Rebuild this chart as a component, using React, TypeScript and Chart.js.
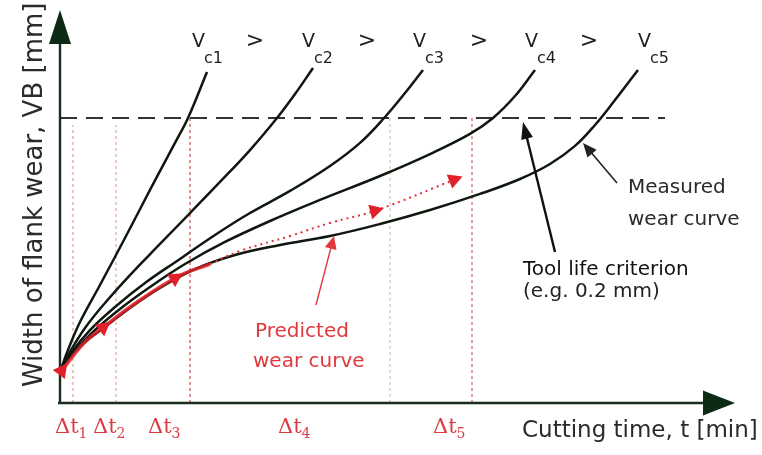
import React, { useEffect, useRef } from "react";
import { Chart, registerables } from "chart.js";
Chart.register(...registerables);

// Cutting time t [min] and flank wear VB [mm]
const timeVc1 = [0, 0.8, 2.0, 4.0, 6.5, 9.0, 11.5, 12.8, 14.7];
const wearVc1 = [0.0218, 0.0372, 0.0568, 0.0828, 0.1158, 0.1495, 0.1825, 0.2, 0.2323];

const timeVc2 = [0, 1.0, 2.5, 4.5, 7.0, 10.0, 13.0, 16.0, 19.0, 21.7, 23.5, 25.3];
const wearVc2 = [0.0218, 0.0358, 0.0526, 0.0702, 0.0898, 0.1116, 0.1333, 0.1551, 0.1775, 0.2, 0.2168, 0.2351];

const timeVc3 = [0, 1.2, 3.0, 5.5, 8.5, 12.0, 15.5, 19.0, 23.0, 27.0, 30.0, 32.5, 34.5, 36.3];
const wearVc3 = [0.0218, 0.0358, 0.0512, 0.0674, 0.0842, 0.1011, 0.1179, 0.1333, 0.1488, 0.1663, 0.1825, 0.2007, 0.2175, 0.2337];

const timeVc4 = [0, 1.5, 3.5, 6.0, 9.0, 12.5, 16.5, 21.0, 26.0, 32.0, 37.0, 41.0, 43.3, 45.5, 47.5];
const wearVc4 = [0.0218, 0.0365, 0.0512, 0.066, 0.0814, 0.0975, 0.113, 0.1277, 0.1425, 0.1593, 0.1747, 0.1888, 0.2, 0.2154, 0.2337];

const timeVc5 = [0, 1.0, 2.5, 4.5, 7.0, 10.0, 13.5, 17.5, 22.0, 27.0, 32.0, 37.0, 42.0, 46.0, 49.0, 51.5, 53.5, 55.5, 57.8];
const wearVc5 = [0.0218, 0.0323, 0.0428, 0.0533, 0.0667, 0.0807, 0.094, 0.1039, 0.1109, 0.1172, 0.1256, 0.1354, 0.1467, 0.1572, 0.1677, 0.1804, 0.1951, 0.2126, 0.2337];

const predictedSolidTime = [0, 0.3, 2.5, 4.5, 7.0, 11.7, 15.0];
const predictedSolidWear = [0.0211, 0.0239, 0.0428, 0.054, 0.0674, 0.0884, 0.0975];
const predictedDottedTime = [15.0, 18.0, 23.0, 27.0, 31.7, 39.6];
const predictedDottedWear = [0.0975, 0.1067, 0.1172, 0.1263, 0.1354, 0.1572];
const solidMarkerIndex = [1, 3, 5];
const dottedMarkerIndex = [4, 5];

const toolLifeCriterion = 0.2;
const criterionEndTime = 60.5;

const intervalBounds = [1.3, 5.6, 13.0, 33.0, 41.2];
const intervalTops = [0.195, 0.195, 0.2, 0.2, 0.2];
const intervalNames = ["1", "2", "3", "4", "5"];
const speedNames = ["c1", "c2", "c3", "c4", "c5"];

const yTitle = "Width of flank wear, VB [mm]";
const xTitle = "Cutting time, t [min]";

// placement of annotations (data units)
const speedLabelX = [13.2, 24.2, 35.3, 46.5, 57.8];
const speedLabelY = 0.2498;
const gtX = [19.5, 30.7, 41.9, 52.9];
const gtY = 0.254;
const intervalLabelX = [-0.5, 3.3, 8.8, 21.8, 37.3];
const intervalLabelY = -0.0211;

const SANS = '"DejaVu Sans", Verdana, sans-serif';
const SERIF = '"DejaVu Serif", "Liberation Serif", serif';

const texts = [
  { t: "Measured", x: 56.8, y: 0.1474, color: "#2b2b2b", font: `20px ${SANS}` },
  { t: "wear curve", x: 56.8, y: 0.1249, color: "#2b2b2b", font: `20px ${SANS}` },
  { t: "Tool life criterion", x: 46.3, y: 0.0898, color: "#111", font: `20px ${SANS}` },
  { t: "(e.g. 0.2 mm)", x: 46.3, y: 0.0744, color: "#222", font: `20px ${SANS}` },
  { t: "Predicted", x: 19.5, y: 0.0463, color: "#e0383c", font: `20px ${SANS}` },
  { t: "wear curve", x: 19.3, y: 0.0253, color: "#e0383c", font: `20px ${SANS}` },
  { t: xTitle, x: 46.2, y: -0.0239, color: "#2b2b2b", font: `23px ${SANS}` },
];

const arrows = [
  { from: [49.5, 0.106], to: [46.3, 0.1972], color: "#111", width: 2.4, len: 17, half: 6 },
  { from: [55.7, 0.1544], to: [52.3, 0.1825], color: "#222", width: 1.6, len: 14, half: 6 },
  { from: [25.6, 0.0688], to: [27.4, 0.1172], color: "#e0383c", width: 1.4, len: 13, half: 6 },
];

const axisX = { from: [-0.2, 0], tip: [67.5, 0] };
const axisY = { from: [0, 0], tip: [0, 0.2758] };

const pts = (xs: number[], ys: number[]) => xs.map((x, i) => ({ x, y: ys[i] }));

function head(ctx: CanvasRenderingContext2D, fx: number, fy: number, tx: number, ty: number, len: number, half: number, color: string, centered = false) {
  const dx = tx - fx, dy = ty - fy;
  const d = Math.hypot(dx, dy) || 1;
  const ux = dx / d, uy = dy / d;
  let tipX = tx, tipY = ty;
  if (centered) { tipX = tx + ux * len / 2; tipY = ty + uy * len / 2; }
  const bx = tipX - ux * len, by = tipY - uy * len;
  ctx.beginPath();
  ctx.moveTo(tipX, tipY);
  ctx.lineTo(bx - uy * half, by + ux * half);
  ctx.lineTo(bx + uy * half, by - ux * half);
  ctx.closePath();
  ctx.fillStyle = color;
  ctx.fill();
}

const annotate = {
  id: "annotate",
  afterDatasetsDraw(chart: any) {
    const ctx: CanvasRenderingContext2D = chart.ctx;
    const sx = chart.scales.x, sy = chart.scales.y;
    const X = (v: number) => sx.getPixelForValue(v);
    const Y = (v: number) => sy.getPixelForValue(v);
    ctx.save();

    // axis arrowheads
    head(ctx, X(axisY.from[0]), Y(axisY.from[1]), X(axisY.tip[0]), Y(axisY.tip[1]), 34, 11, "#0d2a14");
    head(ctx, X(axisX.from[0]), Y(axisX.from[1]), X(axisX.tip[0]), Y(axisX.tip[1]), 32, 12.5, "#0d2a14");

    // pointer arrows
    for (const a of arrows) {
      const fx = X(a.from[0]), fy = Y(a.from[1]), tx = X(a.to[0]), ty = Y(a.to[1]);
      const d = Math.hypot(tx - fx, ty - fy);
      const ex = tx - (tx - fx) / d * (a.len - 2), ey = ty - (ty - fy) / d * (a.len - 2);
      ctx.beginPath();
      ctx.moveTo(fx, fy);
      ctx.lineTo(ex, ey);
      ctx.strokeStyle = a.color;
      ctx.lineWidth = a.width;
      ctx.stroke();
      head(ctx, fx, fy, tx, ty, a.len, a.half, a.color);
    }

    // predicted-curve markers
    const mark = (ts: number[], ws: number[], idx: number[]) => {
      for (const i of idx) {
        const j = i > 0 ? i - 1 : i + 1;
        let fx = X(ts[j]), fy = Y(ws[j]), tx = X(ts[i]), ty = Y(ws[i]);
        if (j > i) { [fx, tx] = [tx, fx]; [fy, ty] = [ty, fy]; }
        head(ctx, fx, fy, tx, ty, 14, 7.5, "#e0202a", true);
      }
    };
    mark(predictedSolidTime, predictedSolidWear, solidMarkerIndex);
    mark(predictedDottedTime, predictedDottedWear, dottedMarkerIndex);

    // plain texts
    ctx.textAlign = "left";
    ctx.textBaseline = "alphabetic";
    for (const t of texts) {
      ctx.font = t.font;
      ctx.fillStyle = t.color;
      ctx.fillText(t.t, X(t.x), Y(t.y));
    }

    // y title
    ctx.save();
    ctx.translate(X(-1.8), Y(0.0112));
    ctx.rotate(-Math.PI / 2);
    ctx.font = `26px ${SANS}`;
    ctx.fillStyle = "#2b2b2b";
    ctx.fillText(yTitle, 0, 0);
    ctx.restore();

    // speed labels Vc1 > Vc2 ...
    speedNames.forEach((s, i) => {
      const x0 = X(speedLabelX[i]), y0 = Y(speedLabelY);
      ctx.font = `19px ${SANS}`;
      ctx.fillStyle = "#1e1e1e";
      ctx.fillText("V", x0, y0);
      const w = ctx.measureText("V").width;
      ctx.font = `16px ${SANS}`;
      ctx.fillText(s, x0 + w - 1, y0 + 16);
    });
    ctx.textAlign = "center";
    ctx.textBaseline = "middle";
    ctx.font = `22px ${SANS}`;
    gtX.forEach((g) => ctx.fillText(">", X(g), Y(gtY)));

    // interval labels
    ctx.textAlign = "left";
    ctx.textBaseline = "alphabetic";
    intervalNames.forEach((n, i) => {
      const x0 = X(intervalLabelX[i]), y0 = Y(intervalLabelY);
      ctx.fillStyle = "#dc3a40";
      ctx.font = `21px ${SERIF}`;
      ctx.fillText("\u0394t", x0, y0);
      const w = ctx.measureText("\u0394t").width;
      ctx.font = `14px ${SERIF}`;
      ctx.fillText(n, x0 + w, y0 + 5);
    });

    ctx.restore();
  },
};

export default function App() {
  const ref = useRef<HTMLCanvasElement | null>(null);
  useEffect(() => {
    document.body.style.margin = "0";
    const curve = (xs: number[], ys: number[]) => ({
      data: pts(xs, ys),
      borderColor: "#0e180e",
      borderWidth: 2.5,
      pointRadius: 0,
      tension: 0.4,
      order: 2,
    });
    const datasets: any[] = [
      {
        data: pts(predictedSolidTime, predictedSolidWear),
        borderColor: "rgba(226,30,40,0.85)",
        borderWidth: 3.5,
        pointRadius: 0,
        tension: 0.4,
        order: 0,
      },
      {
        data: pts(predictedDottedTime, predictedDottedWear),
        borderColor: "#e0303a",
        borderWidth: 2,
        borderDash: [2, 4],
        pointRadius: 0,
        tension: 0.4,
        order: 0,
      },
      curve(timeVc1, wearVc1),
      curve(timeVc2, wearVc2),
      curve(timeVc3, wearVc3),
      curve(timeVc4, wearVc4),
      curve(timeVc5, wearVc5),
      {
        data: [{ x: 0, y: toolLifeCriterion }, { x: criterionEndTime, y: toolLifeCriterion }],
        borderColor: "#333",
        borderWidth: 2,
        borderDash: [17, 9],
        pointRadius: 0,
        tension: 0,
        order: 3,
      },
      ...intervalBounds.map((b, i) => ({
        data: [{ x: b, y: 0 }, { x: b, y: intervalTops[i] }],
        borderColor: ["#eb9a9a", "#e4a4a4", "#cf4a4a", "#d8bcbc", "#d95c5c"][i],
        borderWidth: 1.2,
        borderDash: [3, 3],
        pointRadius: 0,
        tension: 0,
        order: 4,
      })),
      {
        data: [{ x: axisX.from[0], y: axisX.from[1] }, { x: axisX.tip[0] - 2, y: axisX.tip[1] }],
        borderColor: "#1b2b1d",
        borderWidth: 2.6,
        pointRadius: 0,
        tension: 0,
        order: 1,
      },
      {
        data: [{ x: axisY.from[0], y: axisY.from[1] }, { x: axisY.tip[0], y: axisY.tip[1] - 0.01 }],
        borderColor: "#1b2b1d",
        borderWidth: 2.4,
        pointRadius: 0,
        tension: 0,
        order: 1,
      },
    ];
    const chart = new Chart(ref.current as HTMLCanvasElement, {
      type: "line",
      data: { datasets },
      options: {
        animation: false,
        responsive: false,
        events: [],
        layout: { padding: 0 },
        plugins: { legend: { display: false }, tooltip: { enabled: false }, title: { display: false } },
        scales: {
          x: { type: "linear", min: -6, max: 70.2, display: false },
          y: { type: "linear", min: -0.0365, max: 0.2828, display: false },
        },
      },
      plugins: [annotate],
    });
    return () => chart.destroy();
  }, []);
  return (
    <div style={{ width: 762, height: 455, background: "#fff" }}>
      <canvas ref={ref} width={762} height={455} />
    </div>
  );
}
